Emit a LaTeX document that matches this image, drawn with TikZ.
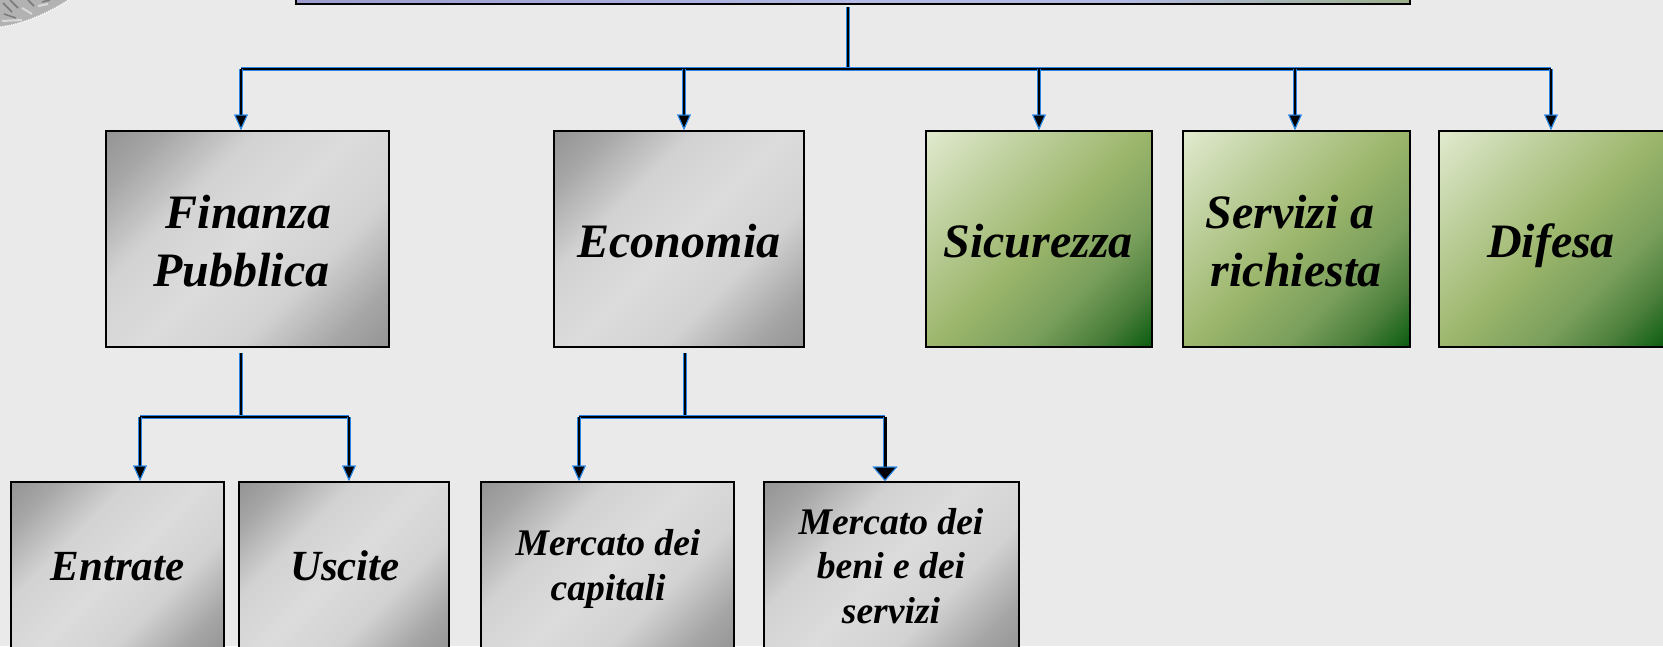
\documentclass[tikz,border=0pt]{standalone}
\usepackage{fontspec}
\setmainfont{Liberation Serif}
\usetikzlibrary{arrows.meta}
\definecolor{pagebg}{HTML}{EAEAEA}
\definecolor{wire}{HTML}{2A86E6}
\definecolor{gd}{HTML}{949494}
\definecolor{gm}{HTML}{A6A6A6}
\definecolor{gs}{HTML}{D2D2D2}
\definecolor{gl}{HTML}{DCDCDC}
\definecolor{ga}{HTML}{E1EACF}
\definecolor{gb}{HTML}{BCCE9A}
\definecolor{gc}{HTML}{9CB66C}
\definecolor{ge}{HTML}{7A9F5C}
\definecolor{gg}{HTML}{4A7E3A}
\definecolor{gf}{HTML}{0A5C10}
\definecolor{ta}{HTML}{9C9CCE}
\definecolor{tb}{HTML}{B4BAE4}
\definecolor{tc}{HTML}{9DB08C}
\pgfdeclareverticalshading{greydiag}{100bp}{color(0bp)=(gd); color(14.6bp)=(gd); color(23bp)=(gm); color(36bp)=(gs); color(50bp)=(gl); color(64bp)=(gs); color(77bp)=(gm); color(85.4bp)=(gd); color(100bp)=(gd)}
\pgfdeclareverticalshading{greendiag}{100bp}{color(0bp)=(ga); color(14.6bp)=(ga); color(33bp)=(gb); color(50bp)=(gc); color(65bp)=(ge); color(76bp)=(gg); color(85.4bp)=(gf); color(100bp)=(gf)}
\pgfdeclarehorizontalshading{topbar}{100bp}{color(0bp)=(ta); color(25bp)=(ta); color(50bp)=(tb); color(62bp)=(tb); color(75bp)=(tc); color(100bp)=(tc)}
\tikzset{
  boxbase/.style={rectangle,draw=black,line width=2pt,inner sep=0pt},
  greybox/.style={boxbase,shading=greydiag,shading angle=225},
  greenbox/.style={boxbase,shading=greendiag,shading angle=225},
  topbox/.style={boxbase,shading=topbar},
  big/.style={font=\fontsize{48}{58}\selectfont\bfseries\itshape,align=center,anchor=base,inner sep=0pt},
  mid/.style={font=\fontsize{43}{52}\selectfont\bfseries\itshape,align=center,anchor=base,inner sep=0pt},
  small/.style={font=\fontsize{37.6}{44.5}\selectfont\bfseries\itshape,align=center,anchor=base,inner sep=0pt},
  busline/.style={line width=1.8pt,black,preaction={draw=wire,line width=3.8pt}},
  thickstem/.style={line width=2.6pt,black,preaction={draw=wire,line width=4pt}},
  thinstem/.style={line width=1.3pt,black,preaction={draw=wire,line width=3.2pt}},
  smalltip/.style={-{Triangle[width=13.5pt,length=15.5pt,color=wire,fill=black,line width=1pt]}},
  largetip/.style={-{Triangle[width=25pt,length=14.5pt,color=wire,fill=black,line width=1pt]}},
  arrowline/.style={line width=1.6pt,black,smalltip,
    preaction={draw=wire,line width=3.4pt,smalltip}},
  bigarrow/.style={line width=3pt,black,largetip,
    preaction={draw=wire,line width=4pt,largetip}},
}
\begin{document}
\begin{tikzpicture}[x=1pt,y=-1pt]
\useasboundingbox (0,0) rectangle (1663,646);
\clip (0,0) rectangle (1663,646);
\fill[pagebg] (0,0) rectangle (1663,646);
% stamp fragment in the corner
\fill[gray!60] (0,-2) -- (72,-2) .. controls (50,12) and (25,24) .. (0,27) -- cycle;
\draw[white,line width=1.2pt,densely dotted] (72,-2) .. controls (50,12) and (25,24) .. (0,27);
\draw[gray!95!black,line width=1.5pt] (3,3) -- (12,12) (10,0) -- (18,8) (28,0) -- (34,6) (42,2) -- (50,0) (4,14) -- (16,18);
\draw[gray!30,line width=2pt] (22,8) -- (32,14) (38,6) -- (48,4) (2,21) -- (22,20);
% boxes
\node (top) [topbox,minimum width=1114pt,minimum height=44pt] at (853,-18) {};
\node (fin) [greybox,minimum width=283pt,minimum height=216pt] at (247.5,239) {};
\node (eco) [greybox,minimum width=250pt,minimum height=216pt] at (679,239) {};
\node (sic) [greenbox,minimum width=226pt,minimum height=216pt] at (1039,239) {};
\node (ser) [greenbox,minimum width=227pt,minimum height=216pt] at (1296.5,239) {};
\node (dif) [greenbox,minimum width=227pt,minimum height=216pt] at (1552.5,239) {};
\node (ent) [greybox,minimum width=213pt,minimum height=170pt] at (117.5,567) {};
\node (usc) [greybox,minimum width=210pt,minimum height=170pt] at (344,567) {};
\node (cap) [greybox,minimum width=253pt,minimum height=170pt] at (607.5,567) {};
\node (ben) [greybox,minimum width=255pt,minimum height=170pt] at (891.5,567) {};
% labels (base anchor = last line)
\node (tfin) [big] at (241.5,286) {\hspace*{14pt}Finanza\\Pubblica};
\node (teco) [big] at (679,257) {Economia};
\node (tsic) [big] at (1038,257) {Sicurezza};
\node (tser) [big] at (1296,286) {Servizi a\hspace*{12pt}\\richiesta};
\node (tdif) [big] at (1551,257) {Difesa};
\node (tent) [mid] at (117.5,580) {Entrate};
\node (tusc) [mid] at (345,580) {Uscite};
\node (tcap) [small] at (608,600) {Mercato dei\\capitali};
\node (tben) [small] at (891,623) {Mercato dei\\beni e dei\\servizi};
% junctions
\coordinate (s0) at (848,7);
\coordinate (j0) at (848,69);
\coordinate (j1) at (241,69);
\coordinate (j2) at (684,69);
\coordinate (j3) at (1039,69);
\coordinate (j4) at (1295,69);
\coordinate (j5) at (1551,69);
\coordinate (s1) at (241,353);
\coordinate (k0) at (241,417);
\coordinate (k1) at (140,417);
\coordinate (k2) at (349,417);
\coordinate (s2) at (685,353);
\coordinate (m0) at (685,417);
\coordinate (m1) at (579,417);
\coordinate (m2) at (885,417);
% connectors
\draw[thickstem] (s0) -- (j0);
\draw[busline] (j1) -- (j5);
\draw[thinstem] (s1) -- (k0);
\draw[busline] (k1) -- (k2);
\draw[thickstem] (s2) -- (m0);
\draw[busline] (m1) -- (m2);
\draw[arrowline] (j1) -- (j1 |- fin.north);
\draw[arrowline] (j2) -- (j2 |- eco.north);
\draw[arrowline] (j3) -- (j3 |- sic.north);
\draw[arrowline] (j4) -- (j4 |- ser.north);
\draw[arrowline] (j5) -- (j5 |- dif.north);
\draw[arrowline] (k1) -- (k1 |- ent.north);
\draw[arrowline] (k2) -- (k2 |- usc.north);
\draw[arrowline] (m1) -- (m1 |- cap.north);
\draw[bigarrow] (m2) -- (m2 |- ben.north);
\end{tikzpicture}
\end{document}
